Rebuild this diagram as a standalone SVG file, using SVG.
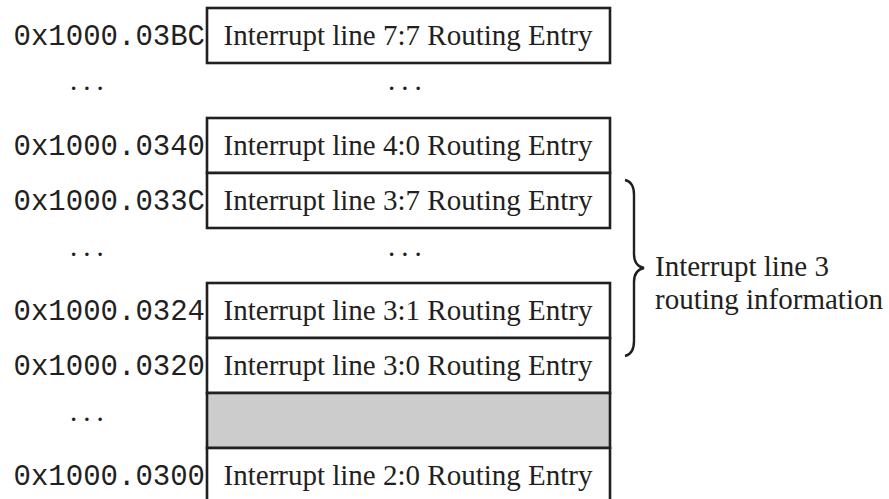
<svg xmlns="http://www.w3.org/2000/svg" width="889" height="499" viewBox="0 0 889 499">
<style>
.box{fill:#fff;stroke:#231f20;stroke-width:2.6}
.grey{fill:#cccccc;stroke:#231f20;stroke-width:2.6}
.addr{font-family:"Liberation Mono",monospace;font-size:29px;fill:#231f20;text-anchor:end}
.lbl{font-family:"Liberation Serif",serif;font-size:29px;fill:#231f20;text-anchor:middle}
.dots{font-family:"Liberation Serif",serif;font-size:29px;fill:#231f20;letter-spacing:6px}
.side{font-family:"Liberation Serif",serif;font-size:29px;fill:#231f20}
</style>
<rect width="889" height="499" fill="#fff"/>
<g id="row-77">
<rect class="box" x="207" y="8" width="403" height="55"/>
<text class="lbl" x="408" y="45">Interrupt line 7:7 Routing Entry</text>
<text class="addr" x="205" y="45">0x1000.03BC</text>
</g>
<g id="dots-1">
<text class="dots" x="70" y="90">...</text>
<text class="dots" x="388" y="90">...</text>
</g>
<g id="row-40">
<rect class="box" x="207" y="118" width="403" height="55"/>
<text class="lbl" x="408" y="155">Interrupt line 4:0 Routing Entry</text>
<text class="addr" x="205" y="155">0x1000.0340</text>
</g>
<g id="row-37">
<rect class="box" x="207" y="173" width="403" height="55"/>
<text class="lbl" x="408" y="210">Interrupt line 3:7 Routing Entry</text>
<text class="addr" x="205" y="210">0x1000.033C</text>
</g>
<g id="dots-2">
<text class="dots" x="70" y="256">...</text>
<text class="dots" x="388" y="256">...</text>
</g>
<g id="row-31">
<rect class="box" x="207" y="283" width="403" height="55"/>
<text class="lbl" x="408" y="320">Interrupt line 3:1 Routing Entry</text>
<text class="addr" x="205" y="320">0x1000.0324</text>
</g>
<g id="row-30">
<rect class="box" x="207" y="338" width="403" height="55"/>
<text class="lbl" x="408" y="375">Interrupt line 3:0 Routing Entry</text>
<text class="addr" x="205" y="375">0x1000.0320</text>
</g>
<g id="gap">
<rect class="grey" x="207" y="393" width="403" height="55"/>
<text class="dots" x="70" y="421">...</text>
</g>
<g id="row-20">
<rect class="box" x="207" y="448" width="403" height="60"/>
<text class="lbl" x="408" y="485">Interrupt line 2:0 Routing Entry</text>
<text class="addr" x="205" y="485">0x1000.0300</text>
</g>
<g id="connectors">
<path d="M625 180 Q634 182 634 195 L634 254 Q634 266 644 268 Q634 270 634 282 L634 341 Q634 354 625 356" fill="none" stroke="#231f20" stroke-width="2.4"/>
</g>
<g id="brace-label">
<text class="side" x="655" y="276">Interrupt line 3</text>
<text class="side" x="655" y="309">routing information</text>
</g>
</svg>
